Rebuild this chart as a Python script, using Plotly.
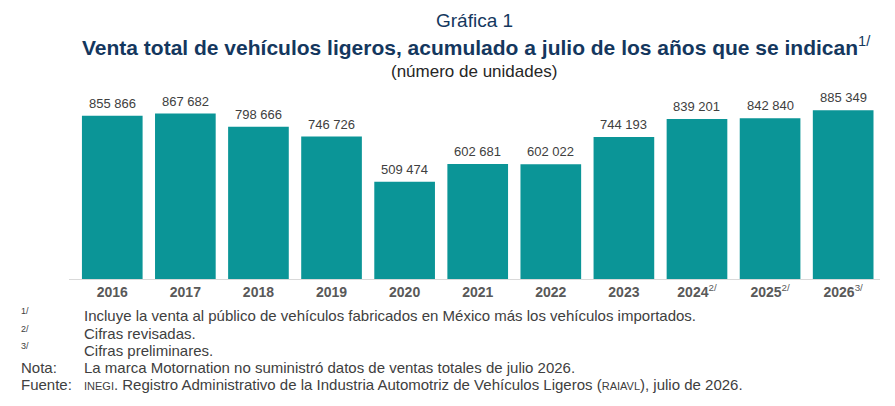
import plotly.graph_objects as go

years = ["2016", "2017", "2018", "2019", "2020", "2021", "2022", "2023", "2024", "2025", "2026"]
tick_notes = ["", "", "", "", "", "", "", "", "2/", "2/", "3/"]
values = [855866, 867682, 798666, 746726, 509474, 602681, 602022, 744193, 839201, 842840, 885349]

title_small = "Gráfica 1"
title_main = "Venta total de vehículos ligeros, acumulado a julio de los años que se indican"
subtitle = "(número de unidades)"

W, H = 895, 406
L, R, T, B = 69, 15, 95, 127
PW, PH = W - L - R, H - T - B

ARIAL = "Liberation Sans, Arial, sans-serif"
NAVY = "#14375E"
GRAY = "#404040"

def px(x):
    return (x - L) / PW

def py(y):
    return 1 - (y - T) / PH

x = list(range(len(years)))
ticktext = [f"<b>{y}</b>" + (f"<sup>{n}</sup>" if n else "") for y, n in zip(years, tick_notes)]

fig = go.Figure(go.Bar(
    x=x, y=values, marker=dict(color="#0B9597", line=dict(width=0)),
    hoverinfo="skip",
))

annotations = []
for xi, v in zip(x, values):
    annotations.append(dict(
        x=xi, y=v, xref="x", yref="y", yanchor="bottom", yshift=3,
        text=f"{v:,}".replace(",", " "), showarrow=False,
        font=dict(family=ARIAL, size=13, color=GRAY),
    ))

annotations += [
    dict(x=px(474), y=py(20), xref="paper", yref="paper", text=title_small, showarrow=False,
         font=dict(family=ARIAL, size=19, color=NAVY), xanchor="center", yanchor="middle"),
    dict(x=px(476), y=py(46), xref="paper", yref="paper",
         text=f"<b>{title_main}</b><sup>1/</sup>", showarrow=False,
         font=dict(family=ARIAL, size=21, color=NAVY), xanchor="center", yanchor="middle"),
    dict(x=px(474), y=py(71), xref="paper", yref="paper", text=subtitle, showarrow=False,
         font=dict(family=ARIAL, size=17, color="#262626"), xanchor="center", yanchor="middle"),
]

notes = [
    ("1/", "Incluye la venta al público de vehículos fabricados en México más los vehículos importados.", 315, True),
    ("2/", "Cifras revisadas.", 333, True),
    ("3/", "Cifras preliminares.", 350, True),
    ("Nota:", "La marca Motornation no suministró datos de ventas totales de julio 2026.", 367, False),
    ("Fuente:", "<span style='font-size:11px'>INEGI</span>. Registro Administrativo de la Industria Automotriz de Vehículos Ligeros (<span style='font-size:11px'>RAIAVL</span>), julio de 2026.", 384, False),
]
for lab, txt, yy, sup in notes:
    annotations.append(dict(
        x=px(19), y=py(yy - 4 if sup else yy), xref="paper", yref="paper", text=lab, showarrow=False,
        xanchor="left", yanchor="middle",
        font=dict(family=ARIAL, size=9 if sup else 15, color=GRAY)))
    annotations.append(dict(
        x=px(82), y=py(yy), xref="paper", yref="paper", text=txt, showarrow=False,
        xanchor="left", yanchor="middle",
        font=dict(family=ARIAL, size=15, color=GRAY)))

fig.update_layout(
    width=W, height=H,
    margin=dict(l=L, r=R, t=T, b=B, pad=0),
    paper_bgcolor="white", plot_bgcolor="white",
    bargap=0.17, showlegend=False,
    xaxis=dict(range=[-0.592, 10.504], tickvals=x, ticktext=ticktext, showline=True,
               linecolor="#D9D9D9", linewidth=1, showgrid=False, zeroline=False, ticks="",
               tickfont=dict(family=ARIAL, size=14, color="#595959"), fixedrange=True),
    yaxis=dict(range=[0, 965000], visible=False, fixedrange=True),
    annotations=annotations,
)

fig.write_html("out.html", config={"displayModeBar": False},
               post_script="document.body.style.margin='0';")
